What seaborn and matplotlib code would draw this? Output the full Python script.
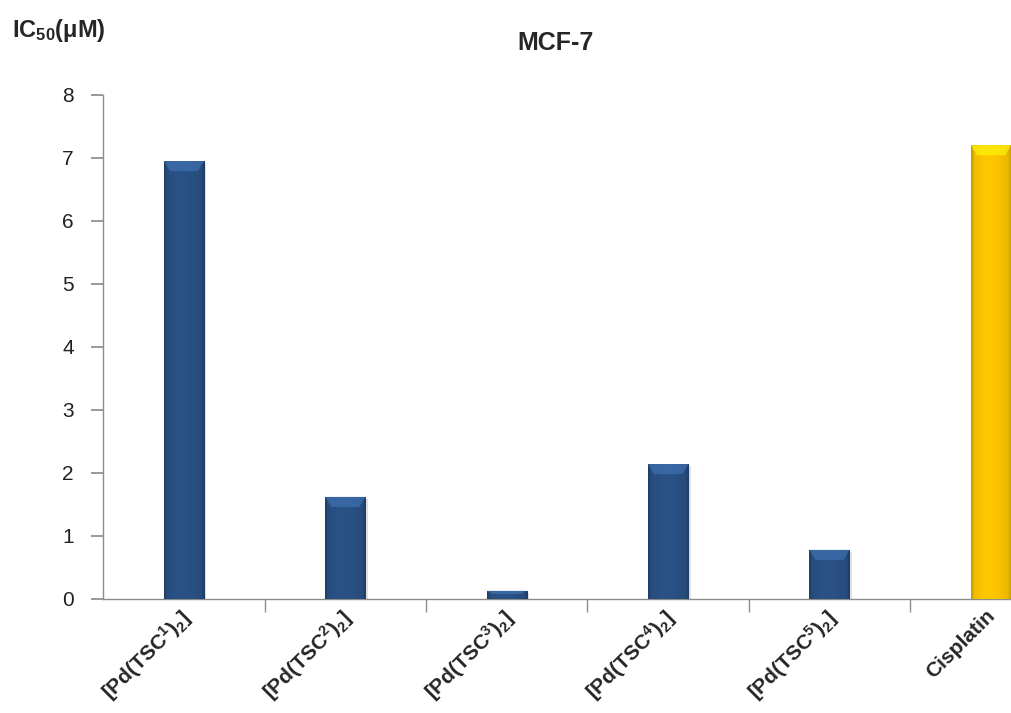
import numpy as np
import pandas as pd
import matplotlib
matplotlib.use("Agg")
import matplotlib.pyplot as plt
import matplotlib.transforms as mtransforms
import seaborn as sns

compounds = [r"[Pd(TSC$^{1}$)$_{2}$]", r"[Pd(TSC$^{2}$)$_{2}$]", r"[Pd(TSC$^{3}$)$_{2}$]",
             r"[Pd(TSC$^{4}$)$_{2}$]", r"[Pd(TSC$^{5}$)$_{2}$]", "Cisplatin"]
ic50 = [6.95, 1.62, 0.13, 2.14, 0.78, 7.2]
bar_colors = ["#2A5286", "#2A5286", "#2A5286", "#2A5286", "#2A5286", "#FFC800"]

sns.set_theme(style="white")
plt.rcParams["font.family"] = ["Liberation Sans", "DejaVu Sans"]
plt.rcParams["mathtext.fontset"] = "custom"
plt.rcParams["mathtext.rm"] = "Liberation Sans:bold"
plt.rcParams["mathtext.bf"] = "Liberation Sans:bold"
plt.rcParams["mathtext.default"] = "rm"

df = pd.DataFrame({"compound": compounds, "ic50": ic50})

fig = plt.figure(figsize=(10.11, 7.13), dpi=100)
ax = fig.add_axes([0.102, 0.160, 0.958, 0.707])

sns.barplot(data=df, x="compound", y="ic50", hue="compound", palette=bar_colors,
            width=0.25, legend=False, ax=ax, saturation=1, edgecolor="none")

# soft bevel shading on each bar
for p in ax.patches:
    x0, y0 = p.get_x(), p.get_y()
    w, h = p.get_width(), p.get_height()
    base = np.array(matplotlib.colors.to_rgb(p.get_facecolor()))
    nx = 60
    t = np.linspace(0, 1, nx)
    shade = 1 - 0.25 * np.abs(t - 0.45) ** 1.5
    edge = np.clip(1 - np.minimum(t, 1 - t) / 0.08, 0, 1)
    img = base[None, None, :] * shade[None, :, None]
    img = img * (1 - 0.18 * edge[None, :, None])
    img = np.clip(img, 0, 1)
    im = ax.imshow(img, extent=[x0, x0 + w, y0, y0 + h], aspect="auto", zorder=3,
                   interpolation="bicubic")
    im.set_clip_path(p)
    # lighter bevelled cap at the top of the bar
    cap = min(0.16, h * 0.4)
    top = np.clip(base * 1.3 + 0.06, 0, 1)
    ax.fill([x0, x0 + w, x0 + w * 0.85, x0 + w * 0.15],
            [y0 + h, y0 + h, y0 + h - cap, y0 + h - cap],
            color=top, alpha=0.55, zorder=4, linewidth=0)
    # drop shadow
    ax.add_patch(plt.Rectangle((x0 + w * 0.06, y0), w, h - 0.03, color="black",
                               alpha=0.12, zorder=2, linewidth=0))

ax.set_xlim(-0.5, 5.5)
ax.set_ylim(0, 8)
ax.set_yticks(range(0, 9))
ax.set_xlabel("")
ax.set_ylabel("")

for s in ["top", "right"]:
    ax.spines[s].set_visible(False)
for s in ["left", "bottom"]:
    ax.spines[s].set_color("#8C8C8C")
    ax.spines[s].set_linewidth(1.0)

ax.tick_params(axis="y", which="major", left=True, length=9, color="#8C8C8C",
               labelsize=15, labelcolor="#222222", pad=12)
ax.set_xticks(range(len(compounds)))
ax.set_xticklabels(compounds, rotation=45, ha="right", rotation_mode="anchor",
                   fontsize=15, fontweight="bold")
ax.tick_params(axis="x", which="major", bottom=False, length=0, pad=5)
shift = mtransforms.ScaledTranslation(-6 / 100, 0, fig.dpi_scale_trans)
for lab in ax.get_xticklabels():
    lab.set_transform(lab.get_transform() + shift)
ax.set_xticks(np.arange(0.5, len(compounds) - 0.5, 1), minor=True)
ax.tick_params(axis="x", which="minor", bottom=True, length=9, color="#8C8C8C")
ax.grid(False)

fig.text(0.55, 0.94, "MCF-7", ha="center", va="center", fontsize=18,
         fontweight="bold")
fig.text(0.012, 0.957, r"IC$_{50}$(μM)", ha="left", va="center", fontsize=17,
         fontweight="bold")

fig.savefig("out.png", dpi=100)
